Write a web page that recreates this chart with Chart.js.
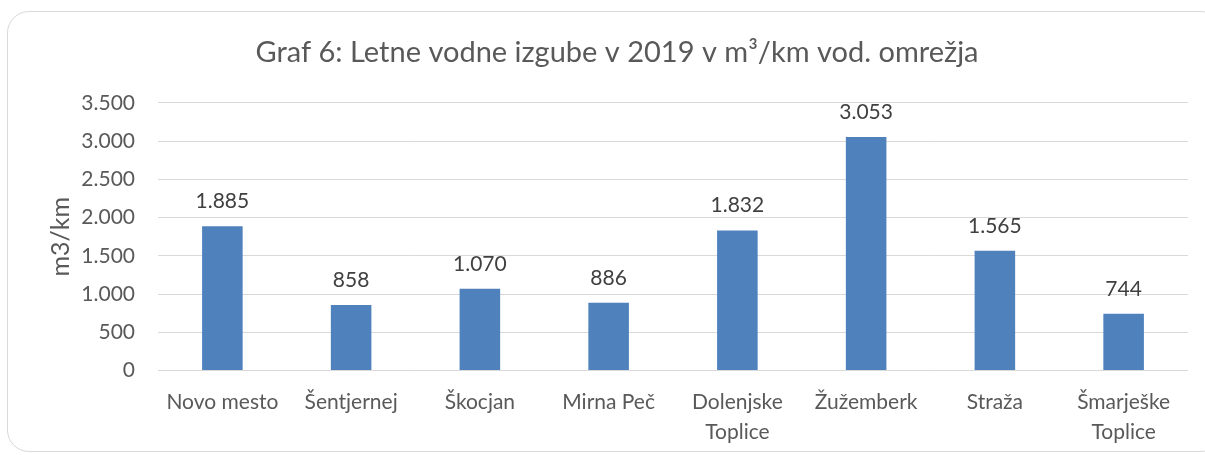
<!DOCTYPE html>
<html>
<head>
<meta charset="utf-8">
<script src="https://cdn.jsdelivr.net/npm/chart.js@4.4.1/dist/chart.umd.min.js"></script>
<style>
  html, body { margin: 0; padding: 0; background: #fff; }
  #frame {
    position: absolute; left: 7px; top: 11px; width: 1215px; height: 441px;
    border: 1px solid #d9d9d9; border-radius: 22px; box-sizing: border-box;
  }
  #wrap { position: absolute; left: 0; top: 0; width: 1205px; height: 455px; }
</style>
</head>
<body>
<div id="frame"></div>
<div id="wrap"><canvas id="myChart" width="1205" height="455"></canvas></div>
<script>
const categories = ['Novo mesto', 'Šentjernej', 'Škocjan', 'Mirna Peč', ['Dolenjske', 'Toplice'], 'Žužemberk', 'Straža', ['Šmarješke', 'Toplice']];
const losses = [1885, 858, 1070, 886, 1832, 3053, 1565, 744];
const yTicks = [0, 500, 1000, 1500, 2000, 2500, 3000, 3500];

const fontFamily = 'Lato, "Open Sans", sans-serif';
const textColor = '#595959';

// 1885 -> "1.885"
const formatNumber = (v) => String(v).replace(/\B(?=(\d{3})+(?!\d))/g, '.');

const valueLabels = {
  id: 'valueLabels',
  afterDatasetsDraw(chart) {
    const ctx = chart.ctx;
    const meta = chart.getDatasetMeta(0);
    ctx.save();
    ctx.font = '21px ' + fontFamily;
    ctx.fillStyle = '#404040';
    ctx.textAlign = 'center';
    ctx.textBaseline = 'alphabetic';
    meta.data.forEach((bar, i) => {
      ctx.fillText(formatNumber(losses[i]), bar.x, bar.y - 18);
    });
    ctx.restore();
  }
};

const ctx = document.getElementById('myChart').getContext('2d');
const chart = new Chart(ctx, {
  type: 'bar',
  data: {
    labels: categories,
    datasets: [{
      label: 'Vodne izgube',
      data: losses,
      backgroundColor: '#4f81bd',
      barPercentage: 0.63,
      categoryPercentage: 0.5
    }]
  },
  options: {
    responsive: false,
    animation: false,
    layout: { padding: { left: 46, right: 17, top: 35, bottom: 0 } },
    plugins: {
      legend: { display: false },
      tooltip: { enabled: false },
      title: {
        display: true,
        text: 'Graf 6: Letne vodne izgube v 2019 v m³/km vod. omrežja',
        color: textColor,
        font: { family: fontFamily, size: 29, weight: 'normal', lineHeight: 1.2 },
        padding: { top: 0, bottom: 33 }
      }
    },
    scales: {
      x: {
        grid: { display: false },
        border: { display: false },
        afterFit: (axis) => { axis.height = 84.4; },
        ticks: {
          color: textColor,
          font: { family: fontFamily, size: 21, lineHeight: 1.43 },
          maxRotation: 0,
          autoSkip: false,
          padding: 9
        }
      },
      y: {
        min: 0,
        max: 3500,
        afterBuildTicks: (axis) => { axis.ticks = yTicks.map((v) => ({ value: v })); },
        afterFit: (axis) => { axis.width = 112; },
        grid: { color: '#d9d9d9', lineWidth: 1, drawTicks: false },
        border: { display: false },
        title: {
          display: true,
          text: 'm3/km',
          color: textColor,
          font: { family: fontFamily, size: 25 },
          padding: { top: 0, bottom: 0 }
        },
        ticks: {
          color: textColor,
          font: { family: fontFamily, size: 21 },
          padding: 23,
          callback: (v) => formatNumber(v)
        }
      }
    }
  },
  plugins: [valueLabels]
});
</script>
</body>
</html>
